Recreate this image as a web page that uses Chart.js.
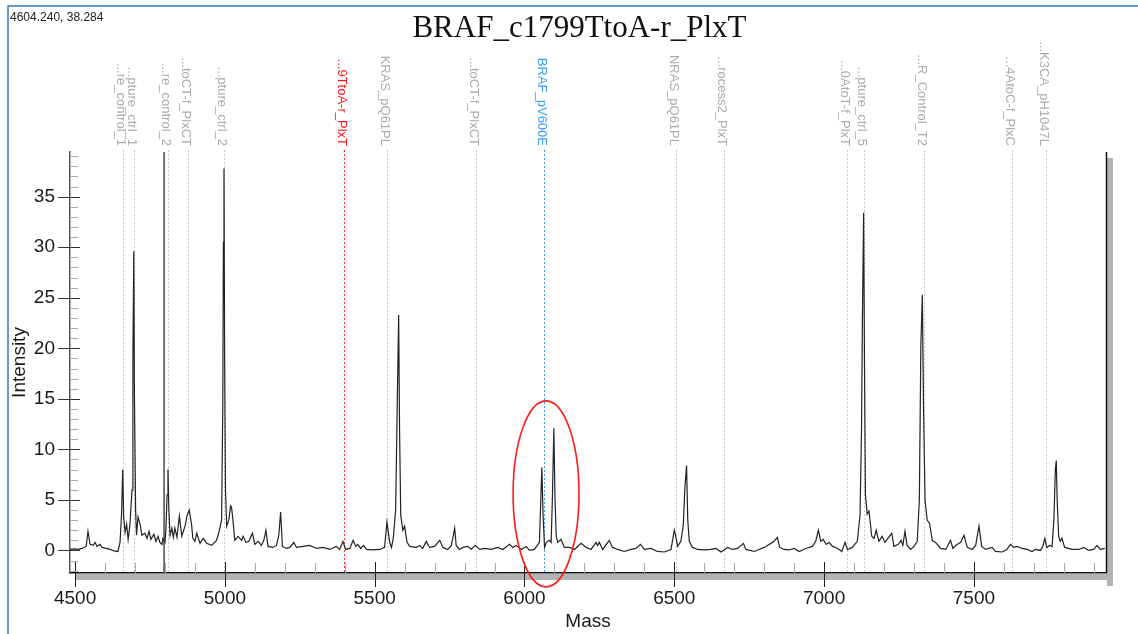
<!DOCTYPE html>
<html><head><meta charset="utf-8">
<script src="https://cdn.jsdelivr.net/npm/chart.js@4.4.1/dist/chart.umd.min.js"></script>
<style>html,body{margin:0;padding:0;background:#fff;}canvas{display:block;}</style>
</head><body>
<canvas id="c" width="1138" height="634"></canvas>
<script>
const chartTitle = 'BRAF_c1799TtoA-r_PlxT';
const cursorReadout = '4604.240, 38.284';
const xAxisTitle = 'Mass';
const yAxisTitle = 'Intensity';
const xRange = [4483, 7941];
const yRange = [-2.23, 39.42];
const xTickValues = [4500, 5000, 5500, 6000, 6500, 7000, 7500];
const yTickValues = [0, 5, 10, 15, 20, 25, 30, 35];
const xMinorStep = 100, yMinorStep = 1;

const massValues = [4483,4497,4510,4523,4537,4543,4550,4560,4567,4573,4583,4590,4603,4617,4630,4643,4650,4655,4659,4662,4667,4672,4677,4683,4690,4693,4696,4698,4702,4705,4710,4717,4723,4733,4740,4747,4753,4763,4770,4777,4783,4790,4793,4800,4803,4807,4810,4813,4817,4823,4828,4833,4840,4848,4856,4867,4874,4881,4889,4893,4900,4906,4917,4928,4939,4956,4972,4980,4989,4993,4995,4997,4999,5002,5006,5013,5019,5022,5027,5033,5044,5056,5061,5070,5080,5092,5100,5111,5122,5130,5137,5144,5160,5172,5180,5186,5192,5206,5217,5230,5239,5261,5283,5306,5328,5350,5372,5383,5394,5403,5417,5428,5437,5444,5453,5463,5472,5493,5517,5533,5541,5550,5556,5562,5570,5575,5580,5583,5587,5594,5600,5608,5617,5639,5650,5660,5672,5683,5700,5717,5728,5744,5756,5767,5772,5783,5794,5811,5822,5836,5850,5867,5889,5911,5928,5950,5961,5972,5989,6006,6017,6033,6050,6053,6058,6062,6067,6073,6083,6089,6093,6098,6102,6106,6111,6122,6133,6150,6167,6189,6206,6222,6239,6244,6250,6261,6283,6294,6311,6333,6356,6372,6387,6400,6422,6444,6467,6489,6500,6505,6511,6522,6530,6535,6541,6545,6550,6561,6578,6600,6622,6639,6656,6678,6694,6711,6731,6739,6767,6783,6800,6811,6822,6833,6844,6852,6867,6883,6900,6917,6939,6961,6972,6981,6989,6997,7007,7017,7028,7039,7050,7059,7070,7078,7094,7111,7120,7125,7128,7132,7135,7138,7144,7150,7159,7167,7174,7183,7194,7203,7213,7226,7233,7248,7257,7263,7270,7277,7289,7300,7311,7318,7323,7328,7332,7337,7344,7352,7361,7372,7389,7406,7422,7430,7439,7456,7467,7478,7494,7506,7517,7526,7539,7561,7572,7594,7610,7622,7633,7644,7661,7678,7694,7706,7722,7730,7737,7743,7753,7761,7767,7772,7775,7778,7783,7788,7794,7803,7828,7850,7867,7883,7900,7911,7922,7937];
const intensityValues = [0.1,0.15,0.1,0.2,0.4,1.9,0.6,0.5,0.8,0.4,0.6,0.3,0.2,0.1,-0.05,-0.1,0.8,3.5,8.0,3.4,1.8,2.6,1.1,2.5,6.0,19,29.6,15.5,4.0,1.5,3.3,2.6,1.5,1.7,1.2,1.9,1.1,1.6,0.9,1.4,0.8,0.6,1.2,0.8,2.0,5.5,8.0,4.0,1.5,2.2,1.3,2.2,1.3,3.4,1.4,2.4,3.5,4.0,2.5,1.2,0.9,1.7,0.7,1.2,0.7,0.5,1.0,1.8,3.0,14.4,30.5,37.8,20,6.0,2.4,3.0,4.4,4.3,3.0,1.0,1.4,1.0,1.4,0.8,0.9,1.7,0.6,0.9,0.5,1.0,2.0,0.4,0.3,0.5,1.5,3.8,0.4,0.2,0.3,0.8,0.3,0.4,0.5,0.2,0.3,0.1,0.4,0.1,0.9,0.1,0.2,1.0,0.4,0.6,0.2,0.5,0.1,0.05,0.1,0.3,2.8,0.8,0.3,1.2,4.0,14,23.3,12,3.5,2.0,2.4,0.8,0.4,0.3,0.5,0.2,0.9,0.3,0.4,1.0,0.3,0.1,0.5,2.2,0.5,0.1,0.3,0.4,0.1,0.5,0.1,0.2,0.1,0.3,0.1,0.6,0.3,0.5,0.1,0.4,0.0,0.1,0.8,3.7,8.2,3.5,0.3,0.8,1.0,0.8,5.0,12.1,5.0,1.4,0.8,1.1,0.3,0.3,0.1,0.7,0.3,0.1,0.8,0.5,0.8,0.1,1.0,0.3,0.1,-0.1,0.1,0.2,0.6,0.1,0.2,-0.1,-0.15,0.1,2.0,1.4,0.4,0.9,2.5,6.0,8.4,3.0,0.9,0.3,0.1,0.05,0.1,0.2,-0.15,0.3,0.1,0.2,0.7,0.1,-0.1,0.1,0.3,0.5,0.7,0.9,1.3,0.3,0.1,0.05,0.2,-0.1,0.2,0.4,0.9,2.0,0.9,1.1,0.6,0.8,0.4,0.3,0.1,-0.1,0.8,0.1,0.3,0.9,3.5,12,23,33.4,18,5.5,3.6,3.9,1.4,1.2,2.0,0.9,1.4,0.8,1.2,1.7,0.4,0.6,1.0,0.5,1.9,0.5,0.1,0.4,0.9,5.0,20.3,25.3,14,5.0,3.0,2.7,1.0,0.8,0.2,0.1,1.0,0.2,0.5,0.8,1.5,0.3,0.1,0.5,2.4,0.4,0.1,0.3,-0.1,-0.15,0.1,0.6,0.3,0.4,0.2,0.1,-0.1,0.1,0.0,0.4,1.2,0.3,0.5,0.4,3.0,8.0,8.9,5.0,1.4,0.9,1.2,0.3,0.1,0.1,0.3,0.0,0.1,0.5,0.1,0.2];

const markerMasses = [4660,4697,4810,4877,4997,5398,5541,5838,6065,6506,6666,7077,7133,7334,7627,7741];
const markerLabels = ['...re_control_1','...pture_ctrl_1','...re_control_2','...toCT-f_PlxCT','...pture_ctrl_2','...9TtoA-r_PlxT','KRAS_pQ61PL','...toCT-f_PlxCT','BRAF_pV600E','NRAS_pQ61PL','...rocess2_PlxT','...0AtoT-f_PlxT','...pture_ctrl_5','...R_Control_T2','...4AtoC-f_PlxC','...K3CA_pH1047L'];
const markerKinds = ['gray','gray','gray','gray','gray','red','gray','gray','blue','gray','gray','gray','gray','gray','gray','gray'];
const solidLineMass = 4797;
const circleCenter = [6072, 5.6];
const circleRadii = [110, 9.2];

const kindColors = {gray:'#ababab', red:'#ff1a1a', blue:'#3b9cff'};
const kindLineColors = {gray:'#c8c8c8', red:'#ff3030', blue:'#3b9cff'};
const SANS = '"Liberation Sans", Arial, sans-serif';

const decor = {
  id:'decor',
  beforeDatasetsDraw(chart){
    const {ctx, chartArea:a, scales:{x}} = chart;
    ctx.save();
    markerMasses.forEach((m,i)=>{
      const px = Math.round(x.getPixelForValue(m)) + 0.5;
      const k = markerKinds[i];
      ctx.strokeStyle = kindLineColors[k];
      ctx.lineWidth = 1;
      ctx.setLineDash([2,2]);
      ctx.beginPath(); ctx.moveTo(px,150); ctx.lineTo(px,a.bottom); ctx.stroke();
      ctx.setLineDash([]);
      ctx.save();
      ctx.translate(px-2.5,146);
      ctx.rotate(Math.PI/2);
      ctx.fillStyle = kindColors[k];
      ctx.font = '13px ' + SANS;
      ctx.textAlign = 'right';
      ctx.textBaseline = 'middle';
      ctx.fillText(markerLabels[i],0,0);
      ctx.restore();
    });
    ctx.restore();
  },
  afterDraw(chart){
    const {ctx, chartArea:a, scales:{x,y}} = chart;
    ctx.save();
    ctx.fillStyle = '#b3b3b3';
    ctx.fillRect(a.left+6, a.bottom+1, a.right-a.left+1, 6);
    ctx.fillRect(a.right+1, a.top+6, 6, a.bottom-a.top+7);
    ctx.strokeStyle = '#111'; ctx.lineWidth = 1.5;
    ctx.beginPath(); ctx.moveTo(a.right+0.5,a.top); ctx.lineTo(a.right+0.5,a.bottom); ctx.stroke();
    ctx.lineWidth = 1;
    for(let v=Math.ceil(xRange[0]/xMinorStep)*xMinorStep; v<=xRange[1]; v+=xMinorStep){
      const px = Math.round(x.getPixelForValue(v))+0.5;
      const major = xTickValues.includes(v);
      ctx.strokeStyle = major ? '#222' : '#aaa';
      ctx.beginPath();
      ctx.moveTo(px, a.bottom - (major?11:10));
      ctx.lineTo(px, major ? a.bottom+14 : a.bottom);
      ctx.stroke();
    }
    for(let v=Math.ceil(yRange[0]/yMinorStep)*yMinorStep; v<=yRange[1]; v+=yMinorStep){
      const py = Math.round(y.getPixelForValue(v))+0.5;
      const major = yTickValues.includes(v);
      ctx.strokeStyle = major ? '#333' : '#aaa';
      ctx.beginPath();
      ctx.moveTo(major ? a.left-12 : a.left, py);
      ctx.lineTo(a.left + (major?10:8), py);
      ctx.stroke();
    }
    const cx = x.getPixelForValue(circleCenter[0]);
    const cy = y.getPixelForValue(circleCenter[1]);
    const rx = Math.abs(x.getPixelForValue(circleCenter[0]+circleRadii[0]) - cx);
    const ry = Math.abs(y.getPixelForValue(circleCenter[1]+circleRadii[1]) - cy);
    ctx.strokeStyle = '#ff1a1a'; ctx.lineWidth = 1.6;
    ctx.beginPath(); ctx.ellipse(cx,cy,rx,ry,0,0,Math.PI*2); ctx.stroke();
    ctx.fillStyle = '#111';
    ctx.font = '31px "Liberation Serif", "Times New Roman", serif';
    ctx.textAlign = 'center'; ctx.textBaseline = 'alphabetic';
    ctx.fillText(chartTitle, 579.5, 37);
    ctx.font = '12px ' + SANS;
    ctx.textAlign = 'left';
    ctx.fillStyle = '#222';
    ctx.fillText(cursorReadout, 10, 21);
    ctx.strokeStyle = '#2f7bc4'; ctx.lineWidth = 1.5;
    ctx.beginPath(); ctx.moveTo(8, 640); ctx.lineTo(8, 6); ctx.lineTo(1140, 6); ctx.stroke();
    ctx.restore();
  }
};

const spectrum = massValues.map((m,i)=>({x:m, y:intensityValues[i]}));
const solidLine = [{x:solidLineMass, y:yRange[0]}, {x:solidLineMass, y:yRange[1]}];

new Chart(document.getElementById('c').getContext('2d'), {
  type:'line',
  data:{datasets:[
    {data:spectrum, borderColor:'#222', borderWidth:1.2, pointRadius:0, tension:0, fill:false},
    {data:solidLine, borderColor:'#4a4a4a', borderWidth:1.5, pointRadius:0, fill:false}
  ]},
  options:{
    responsive:false, animation:false, events:[],
    layout:{padding:{left:0,right:32,top:152,bottom:0}},
    plugins:{legend:{display:false}, tooltip:{enabled:false}, title:{display:false}},
    scales:{
      x:{type:'linear', min:xRange[0], max:xRange[1],
        afterFit(s){ s.height = 61; },
        afterBuildTicks(s){ s.ticks = xTickValues.map(v=>({value:v})); },
        grid:{display:false, drawTicks:false},
        border:{display:true, color:'#111', width:1.5},
        ticks:{autoSkip:false, maxRotation:0, padding:14, color:'#1a1a1a',
          font:{family:SANS, size:19}, callback:v=>String(v)},
        title:{display:true, text:xAxisTitle, color:'#1a1a1a', font:{family:SANS, size:19}, padding:{top:0,bottom:1}}
      },
      y:{type:'linear', min:yRange[0], max:yRange[1],
        afterFit(s){ s.width = 70; },
        afterBuildTicks(s){ s.ticks = yTickValues.map(v=>({value:v})); },
        grid:{display:false, drawTicks:false},
        border:{display:true, color:'#555', width:1.5},
        ticks:{autoSkip:false, padding:15, color:'#1a1a1a',
          font:{family:SANS, size:19}, callback:v=>String(v)},
        title:{display:true, text:yAxisTitle, color:'#1a1a1a', font:{family:SANS, size:19}, padding:{top:8,bottom:0}}
      }
    }
  },
  plugins:[decor]
});
</script>
</body></html>
